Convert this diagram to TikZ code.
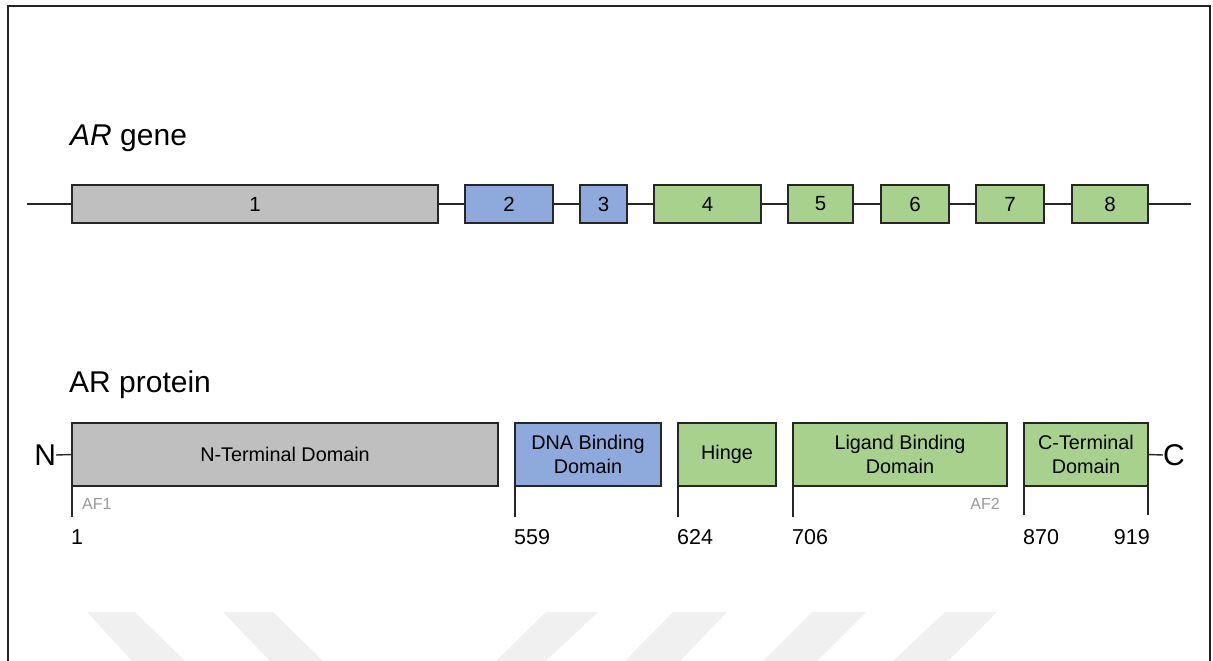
\documentclass[tikz,border=0pt]{standalone}
\usepackage{fontspec}
\setmainfont{Liberation Sans}
\definecolor{boxgray}{HTML}{BFBFBF}
\definecolor{boxblue}{HTML}{8EA9DB}
\definecolor{boxgreen}{HTML}{A9D18E}
\definecolor{afgray}{HTML}{999999}
\definecolor{wmark}{HTML}{F0F0F0}
\definecolor{framec}{HTML}{222222}
\begin{document}
\begin{tikzpicture}[x=1pt,y=-1pt,
  exonbox/.style={draw=black!85,line width=1.6pt,inner sep=0pt,outer sep=0pt,minimum height=38pt,
    font=\fontsize{20.5}{24}\selectfont},
  dombox/.style={draw=black!85,line width=1.6pt,inner sep=0pt,outer sep=0pt,minimum height=63pt,
    align=center,font=\fontsize{19.8}{23.5}\selectfont},
  linkline/.style={line width=1.4pt,draw=black!85},
  tickline/.style={line width=1.6pt,draw=black!85},
  numtext/.style={inner sep=0pt,font=\fontsize{21.5}{25}\selectfont},
  aftext/.style={inner sep=0pt,text=afgray,font=\fontsize{16}{19}\selectfont},
  titletext/.style={inner sep=0pt,anchor=base west,font=\fontsize{30}{35}\selectfont},
  termtext/.style={inner sep=0pt,outer sep=0pt,font=\fontsize{30}{34}\selectfont},
  wmshape/.style={fill=wmark,draw=none}]
\useasboundingbox (0,0) rectangle (1213,661);
% watermark
\fill[wmshape] (87,612) -- (135,612) -- (185,661) -- (132,661) -- cycle;
\fill[wmshape] (223,612) -- (273,612) -- (323,661) -- (270,661) -- cycle;
\fill[wmshape] (546,612) -- (598,612) -- (546,661) -- (496,661) -- cycle;
\fill[wmshape] (673,612) -- (727,612) -- (680,661) -- (625,661) -- cycle;
\fill[wmshape] (812,612) -- (866,612) -- (817,661) -- (763,661) -- cycle;
\fill[wmshape] (945,612) -- (997,612) -- (948,661) -- (893,661) -- cycle;
% frame
\draw[framec,line width=2pt] (8,662) -- (8,6) -- (1210,6) -- (1210,662);
% titles
\node[titletext] (tgene) at (70,145) {\textit{AR} gene};
\node[titletext] (tprot) at (69,392) {AR protein};
% gene exons
\node[exonbox,fill=boxgray,minimum width=366pt] (g1) at (255,204) {1};
\node[exonbox,fill=boxblue,minimum width=88pt] (g2) at (509,204) {2};
\node[exonbox,fill=boxblue,minimum width=47pt] (g3) at (603.5,204) {3};
\node[exonbox,fill=boxgreen,minimum width=107pt] (g4) at (707.5,204) {4};
\node[exonbox,fill=boxgreen,minimum width=65pt] (g5) at (820.5,204) {5};
\node[exonbox,fill=boxgreen,minimum width=68pt] (g6) at (915,204) {6};
\node[exonbox,fill=boxgreen,minimum width=68pt] (g7) at (1010,204) {7};
\node[exonbox,fill=boxgreen,minimum width=76pt] (g8) at (1110,204) {8};
\coordinate (gl) at (27,204);
\coordinate (gr) at (1191,204);
\draw[linkline] (gl) -- (g1.west);
\draw[linkline] (g1.east) -- (g2.west);
\draw[linkline] (g2.east) -- (g3.west);
\draw[linkline] (g3.east) -- (g4.west);
\draw[linkline] (g4.east) -- (g5.west);
\draw[linkline] (g5.east) -- (g6.west);
\draw[linkline] (g6.east) -- (g7.west);
\draw[linkline] (g7.east) -- (g8.west);
\draw[linkline] (g8.east) -- (gr);
% protein domains
\node[dombox,fill=boxgray,minimum width=426pt] (p1) at (285,454.5) {N-Terminal Domain};
\node[dombox,fill=boxblue,minimum width=146pt] (p2) at (588,454.5) {DNA Binding\\Domain};
\node[dombox,fill=boxgreen,minimum width=98pt] (p3) at (727,454.5) {Hinge};
\node[dombox,fill=boxgreen,minimum width=214pt] (p4) at (900,454.5) {Ligand Binding\\Domain};
\node[dombox,fill=boxgreen,minimum width=124pt] (p5) at (1086,454.5) {C-Terminal\\Domain};
% termini
\node[termtext,anchor=east] (nt) at (56,455) {N};
\node[termtext,anchor=west] (ct) at (1163,455) {C};
\draw[linkline] (nt.east) -- (p1.west);
\draw[linkline] (p5.east) -- (ct.west);
% ticks
\coordinate (t1) at (72,517);
\coordinate (t2) at (515,517);
\coordinate (t3) at (678,517);
\coordinate (t4) at (793,517);
\coordinate (t5) at (1024,515);
\coordinate (t6) at (1148,515);
\draw[tickline] (p1.south west) -- (t1);
\draw[tickline] (p2.south west) -- (t2);
\draw[tickline] (p3.south west) -- (t3);
\draw[tickline] (p4.south west) -- (t4);
\draw[tickline] (p5.south west) -- (t5);
\draw[tickline] (p5.south east) -- (t6);
% AF labels
\node[aftext,anchor=west] (af1) at (82,503.5) {AF1};
\node[aftext,anchor=east] (af2) at (1000,503.5) {AF2};
% numbers
\node[numtext,anchor=west] (n1) at (71,537) {1};
\node[numtext,anchor=west] (n559) at (514,537) {559};
\node[numtext,anchor=west] (n624) at (677,537) {624};
\node[numtext,anchor=west] (n706) at (792,537) {706};
\node[numtext,anchor=west] (n870) at (1023,537) {870};
\node[numtext,anchor=east] (n919) at (1150,537) {919};
\end{tikzpicture}
\end{document}
